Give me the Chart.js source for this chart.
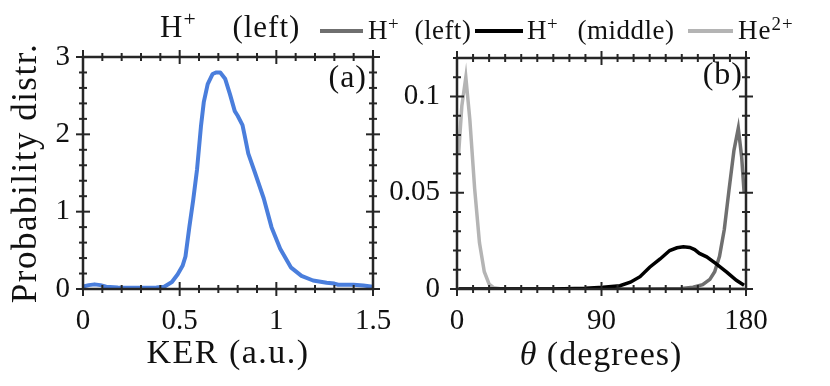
<!DOCTYPE html>
<html><head><meta charset="utf-8">
<script src="https://cdn.jsdelivr.net/npm/chart.js@4.4.1/dist/chart.umd.min.js"></script>
<style>
html,body{margin:0;padding:0;background:#fff;}
#wrap{position:relative;width:830px;height:386px;overflow:hidden;font-family:"Liberation Serif",serif;color:#111;}
canvas{position:absolute;left:0;top:0;}
.t{position:absolute;white-space:nowrap;line-height:1;}
.ln{position:absolute;height:4px;}
sup{font-size:0.7em;vertical-align:0.5em;line-height:0;}
</style></head>
<body><div id="wrap">
<canvas id="ca" width="830" height="386"></canvas>
<canvas id="cb" width="830" height="386"></canvas>
<div class="t" style="left:160px;top:11px;font-size:31px;letter-spacing:1px;word-spacing:27px;">H<sup>+</sup> (left)</div>
<div class="ln" style="left:320px;top:29px;width:43px;background:#6f6f6f;"></div>
<div class="t" style="left:368px;top:17px;font-size:27px;letter-spacing:0.5px;word-spacing:8px;">H<sup>+</sup> (left)</div>
<div class="ln" style="left:475px;top:29px;width:48px;background:#000;"></div>
<div class="t" style="left:527px;top:17px;font-size:27px;letter-spacing:0.5px;word-spacing:12px;">H<sup>+</sup> (middle)</div>
<div class="ln" style="left:688px;top:29px;width:45px;background:#b4b4b4;"></div>
<div class="t" style="left:738px;top:17px;font-size:27px;letter-spacing:1px;">He<sup>2+</sup></div>
<div class="t" style="left:601px;top:337px;font-size:34px;letter-spacing:1px;transform:translateX(-50%);"><i>θ</i> (degrees)</div>
</div>
<script>
// ---- data ----
const kerTicks = [0, 0.5, 1, 1.5];
const pTicks = [0, 1, 2, 3];
const thetaTicks = [0, 90, 180];
const probTicks = [0, 0.05, 0.1];

const kerX = [0.0, 0.03, 0.06, 0.09, 0.12, 0.18, 0.25, 0.32, 0.38, 0.42, 0.46, 0.49, 0.515, 0.53, 0.55, 0.57, 0.59, 0.61, 0.625, 0.645, 0.67, 0.69, 0.71, 0.735, 0.76, 0.785, 0.80, 0.825, 0.835, 0.855, 0.89, 0.935, 0.975, 1.02, 1.075, 1.13, 1.19, 1.26, 1.30, 1.32, 1.40, 1.45, 1.50];
const kerP = [0.03, 0.05, 0.06, 0.05, 0.03, 0.02, 0.015, 0.015, 0.02, 0.03, 0.09, 0.19, 0.30, 0.42, 0.80, 1.15, 1.55, 2.10, 2.42, 2.65, 2.78, 2.80, 2.80, 2.72, 2.52, 2.30, 2.24, 2.12, 2.00, 1.75, 1.50, 1.17, 0.80, 0.52, 0.28, 0.17, 0.11, 0.08, 0.07, 0.055, 0.055, 0.045, 0.03];

const hmTheta = [1, 20, 40, 60, 80, 91, 101.5, 108, 114, 120, 126.5, 132.5, 137, 141, 145, 148, 151, 155.5, 161.5, 168, 174, 178.8];
const hmVal = [0, 0, 0, 0, 0.0004, 0.0009, 0.0017, 0.0035, 0.0064, 0.0113, 0.0156, 0.0200, 0.0214, 0.0219, 0.0216, 0.0205, 0.0185, 0.0167, 0.0131, 0.0088, 0.0045, 0.0020];

const hlTheta = [1, 30, 60, 90, 120, 140, 147, 153, 157.5, 160.5, 163.5, 166.5, 169.5, 172.5, 175.2, 177.3, 178.8];
const hlVal = [0, 0, 0, 0, 0, 0.0003, 0.0009, 0.0022, 0.0050, 0.0090, 0.0170, 0.0310, 0.0520, 0.0720, 0.0835, 0.0686, 0.0503];

const heTheta = [1, 3, 5.5, 8, 11, 14, 17, 20, 23, 27, 35, 60, 90, 120, 150, 178.8];
const heVal = [0.070, 0.095, 0.110, 0.088, 0.052, 0.024, 0.009, 0.0025, 0.0006, 0.0001, 0, 0, 0, 0, 0, 0];

const FONT = '"Liberation Serif", "Times New Roman", serif';
const pts = (xs, ys) => xs.map((x, i) => ({x, y: ys[i]}));

// slightly wider axis titles (LaTeX-like spacing)
const origDrawTitle = Chart.Scale.prototype.drawTitle;
Chart.Scale.prototype.drawTitle = function () {
  const c = this.ctx;
  c.save();
  c.letterSpacing = '1.5px';
  origDrawTitle.call(this);
  c.restore();
};

const framePlugin = {
  id: 'frame',
  afterDatasetsDraw(chart, args, o) {
    const {ctx, chartArea: a, scales: {x, y}} = chart;
    ctx.save();
    ctx.strokeStyle = '#262626';
    ctx.lineWidth = 2.5;
    ctx.strokeRect(a.left, a.top, a.right - a.left, a.bottom - a.top);
    ctx.lineWidth = 2;
    const seg = (x1, y1, x2, y2) => { ctx.beginPath(); ctx.moveTo(x1, y1); ctx.lineTo(x2, y2); ctx.stroke(); };
    const isMaj = (arr, v) => arr.some(m => Math.abs(m - v) < 1e-9);
    let n = Math.round((x.max - x.min) / o.xMinor);
    for (let i = 0; i <= n; i++) {
      const v = x.min + i * o.xMinor;
      const px = x.getPixelForValue(v);
      const L = isMaj(o.xMajor, +v.toFixed(6)) ? 7 : 4;
      seg(px, a.bottom - L, px, a.bottom + L);
      seg(px, a.top - L, px, a.top + L);
    }
    n = Math.round((y.max - y.min) / o.yMinor);
    for (let i = 0; i <= n; i++) {
      const v = y.min + i * o.yMinor;
      const py = y.getPixelForValue(v);
      const L = isMaj(o.yMajor, +v.toFixed(6)) ? 7 : 4;
      seg(a.left - L, py, a.left + L, py);
      seg(a.right - L, py, a.right + L, py);
    }
    ctx.fillStyle = '#111';
    ctx.font = '32px ' + FONT;
    ctx.letterSpacing = '1px';
    ctx.textAlign = 'right';
    ctx.textBaseline = 'alphabetic';
    ctx.fillText(o.label, a.right - o.dx, a.top + o.dy);
    ctx.restore();
  }
};

const tickFont = {family: FONT, size: 29};
const gridOff = {display: true, drawOnChartArea: false, drawTicks: false, color: 'rgba(0,0,0,0)'};

new Chart(document.getElementById('ca'), {
  type: 'line',
  data: {datasets: [{data: pts(kerX, kerP), borderColor: '#4a7edc', borderWidth: 4, pointRadius: 0, tension: 0, fill: false, borderJoinStyle: 'round'}]},
  options: {
    responsive: false, animation: false, devicePixelRatio: 1,
    layout: {padding: {left: 0, top: 57, right: 457, bottom: 0}},
    plugins: {legend: {display: false}, tooltip: {enabled: false},
      frame: {xMinor: 0.1, xMajor: kerTicks, yMinor: 0.2, yMajor: pTicks, label: '(a)', dx: 6, dy: 30}},
    scales: {
      x: {type: 'linear', min: 0, max: 1.5,
        afterFit: s => { s.height = 97; },
        afterBuildTicks: s => { s.ticks = kerTicks.map(v => ({value: v})); },
        grid: gridOff, border: {display: false},
        ticks: {padding: 15, font: tickFont, color: '#111', maxRotation: 0, callback: v => String(v)},
        title: {display: true, text: 'KER (a.u.)', color: '#111', font: {family: FONT, size: 34}, padding: {top: 0, bottom: 12}}},
      y: {type: 'linear', min: 0, max: 3,
        afterFit: s => { s.width = 83; },
        afterBuildTicks: s => { s.ticks = pTicks.map(v => ({value: v})); },
        grid: gridOff, border: {display: false},
        ticks: {padding: 13, font: tickFont, color: '#111', callback: v => String(v)},
        title: {display: true, text: 'Probability distr.', color: '#111', font: {family: FONT, size: 35}, padding: {top: 6, bottom: 0}}}
    }
  },
  plugins: [framePlugin]
});

new Chart(document.getElementById('cb'), {
  type: 'line',
  data: {datasets: [
    {label: 'H+ (middle)', data: pts(hmTheta, hmVal), borderColor: '#000000', borderWidth: 3.5, pointRadius: 0, tension: 0, fill: false},
    {label: 'H+ (left)', data: pts(hlTheta, hlVal), borderColor: '#6f6f6f', borderWidth: 3.5, pointRadius: 0, tension: 0, fill: false},
    {label: 'He2+', data: pts(heTheta, heVal), borderColor: '#b4b4b4', borderWidth: 3.5, pointRadius: 0, tension: 0, fill: false}
  ]},
  options: {
    responsive: false, animation: false, devicePixelRatio: 1,
    layout: {padding: {left: 386, top: 58, right: 84, bottom: 0}},
    plugins: {legend: {display: false}, tooltip: {enabled: false},
      frame: {xMinor: 10, xMajor: thetaTicks, yMinor: 0.01, yMajor: probTicks, label: '(b)', dx: 3, dy: 26}},
    scales: {
      x: {type: 'linear', min: 0, max: 180,
        afterFit: s => { s.height = 97; },
        afterBuildTicks: s => { s.ticks = thetaTicks.map(v => ({value: v})); },
        grid: gridOff, border: {display: false},
        ticks: {padding: 15, font: tickFont, color: '#111', maxRotation: 0, callback: v => String(v)}},
      y: {type: 'linear', min: 0, max: 0.12,
        afterFit: s => { s.width = 71; },
        afterBuildTicks: s => { s.ticks = probTicks.map(v => ({value: v})); },
        grid: gridOff, border: {display: false},
        ticks: {padding: 17, font: tickFont, color: '#111', callback: v => String(v)}}
    }
  },
  plugins: [framePlugin]
});
</script>
</body></html>
